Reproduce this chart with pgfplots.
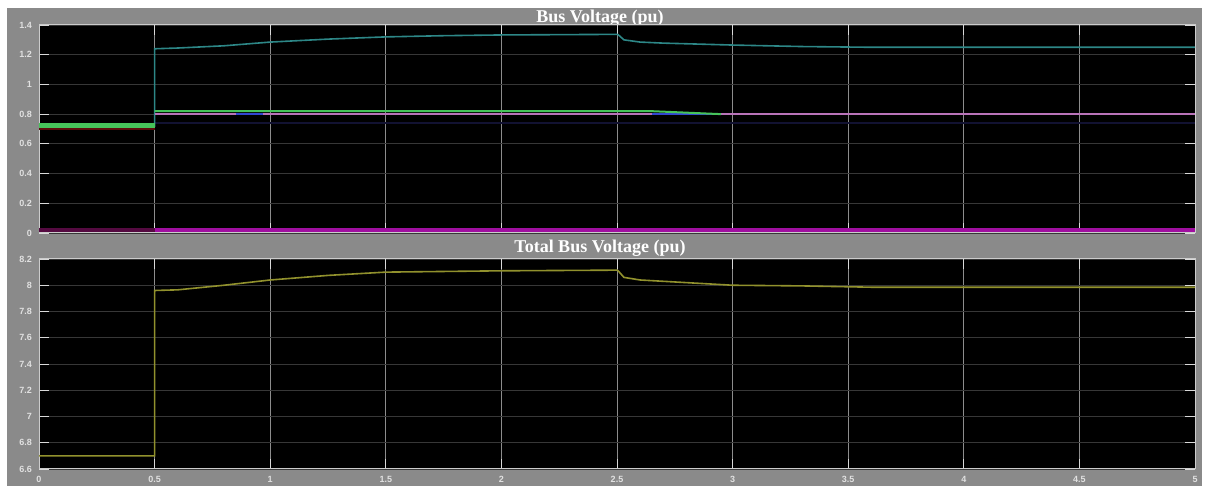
\documentclass[border=0pt]{standalone}
\usepackage{fontspec}
\setmainfont{Liberation Serif}
\newfontfamily\tickfont{Liberation Sans}
\usepackage{pgfplots}
\pgfplotsset{compat=1.18}
\definecolor{panelgray}{RGB}{138,138,138}
\definecolor{gridv}{RGB}{140,140,140}
\definecolor{gridh}{RGB}{55,55,55}
\definecolor{cyanline}{RGB}{45,135,135}
\definecolor{greenline}{RGB}{70,195,90}
\definecolor{pinkline}{RGB}{185,115,185}
\definecolor{blueline}{RGB}{50,70,210}
\definecolor{magline}{RGB}{160,15,160}
\definecolor{darkmag}{RGB}{85,10,65}
\definecolor{darkred}{RGB}{90,12,12}
\definecolor{darknavy}{RGB}{18,18,50}
\definecolor{yellowline}{RGB}{145,145,45}
\definecolor{labelgray}{RGB}{225,225,225}
\pgfplotsset{scopestyle/.style={
  scale only axis, width=578pt,
  axis background/.style={fill=black},
  xmin=0, xmax=5,
  xtick={0,0.5,1,1.5,2,2.5,3,3.5,4,4.5,5},
  axis line style={draw=white!80!black, line width=0.5pt},
  grid=major,
  x grid style={color=gridv, line width=0.4pt},
  y grid style={color=gridh, line width=0.4pt},
  tick style={color=white!85!black, line width=0.4pt},
  major tick length=5pt,
  tick label style={font=\tickfont\bfseries\fontsize{4.5}{5}\selectfont, text=labelgray},
  /pgf/number format/assume math mode=true,
  unbounded coords=jump,
}}
\begin{document}
\begin{tikzpicture}
\path[fill=white] (0pt,0pt) rectangle (602.5pt,-243pt);
\fill[panelgray] (3.5pt,-4pt) rectangle (601pt,-243pt);
\node[text=white, font=\bfseries\fontsize{9}{10}\selectfont] at (300pt,-9.3pt) {Bus Voltage (pu)};
\node[text=white, font=\bfseries\fontsize{9}{10}\selectfont] at (300pt,-124.3pt) {Total Bus Voltage (pu)};
\begin{axis}[scopestyle, at={(19.5pt,-116.5pt)}, anchor=south west, height=104pt,
  ymin=0, ymax=1.4,
  ytick={0,0.2,0.4,0.6,0.8,1,1.2,1.4},
  yticklabels={0,0.2,0.4,0.6,0.8,1,1.2,1.4},
  xticklabels={}]
\addplot[darkmag, line width=2pt] coordinates {(0,0.02)(0.5,0.02)};
\addplot[magline, line width=2pt] coordinates {(0.5,0.02)(5,0.02)};
\addplot[darkred, line width=1pt] coordinates {(0,0.70)(0.5,0.70)};
\addplot[darknavy, line width=1pt] coordinates {(0.5,0.74)(5,0.74)};
\addplot[cyanline, line width=0.8pt] coordinates {
(0,0.72)(0.5,0.72)(0.5,1.24)(0.6,1.245)(0.8,1.26)(1.0,1.285)(1.25,1.305)(1.5,1.32)(1.75,1.328)(2.0,1.333)(2.5,1.337)(2.505,1.335)(2.53,1.30)(2.6,1.285)(2.7,1.278)(3.0,1.265)(3.3,1.255)(3.6,1.25)(5,1.25)};
\addplot[blueline, line width=1pt] coordinates {(0.5,0.80)(5,0.80)};
\addplot[pinkline, line width=1pt] coordinates {(0.5,0.80)(0.85,0.80)(0.86,nan)(0.97,0.80)(2.65,0.80)(2.66,nan)(2.95,0.80)(5,0.80)};
\addplot[greenline, line width=1pt] coordinates {(0.5,0.82)(2.65,0.82)(2.8,0.81)(2.95,0.80)};
\addplot[greenline, line width=2.3pt] coordinates {(0,0.722)(0.5,0.722)};
\end{axis}
\begin{axis}[scopestyle, at={(19.5pt,-234.5pt)}, anchor=south west, height=105pt,
  ymin=6.6, ymax=8.2,
  ytick={6.6,6.8,7,7.2,7.4,7.6,7.8,8,8.2},
  yticklabels={6.6,6.8,7,7.2,7.4,7.6,7.8,8,8.2},
  xticklabels={0,0.5,1,1.5,2,2.5,3,3.5,4,4.5,5}]
\addplot[yellowline, line width=0.8pt] coordinates {
(0,6.7)(0.5,6.7)(0.5,7.96)(0.6,7.965)(0.8,8.0)(1.0,8.04)(1.25,8.075)(1.5,8.1)(2.0,8.11)(2.5,8.115)(2.505,8.11)(2.53,8.06)(2.6,8.04)(2.8,8.02)(3.0,8.0)(3.3,7.995)(3.6,7.985)(5,7.985)};
\end{axis}
\end{tikzpicture}
\end{document}
